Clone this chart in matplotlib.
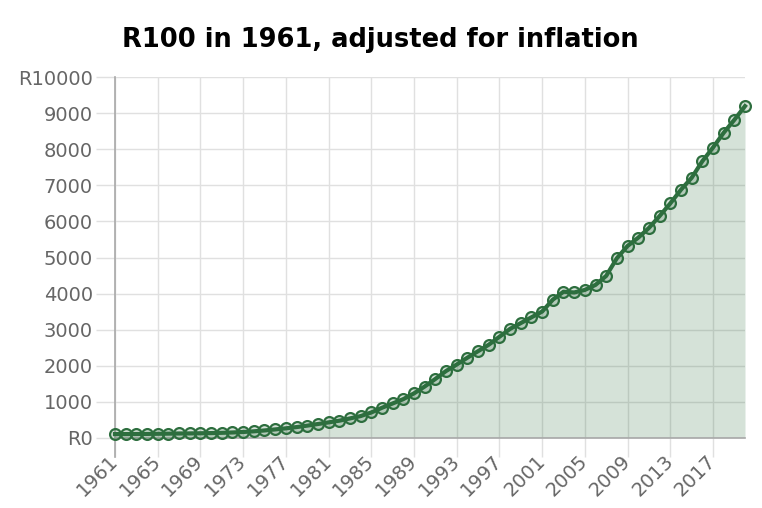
import matplotlib
matplotlib.use("Agg")
import matplotlib.pyplot as plt
from matplotlib.ticker import FuncFormatter, MultipleLocator

years = list(range(1961, 2021))
values = [100, 101, 103, 105, 109, 113, 117, 119, 123, 128,
          136, 145, 159, 177, 201, 230, 260, 295, 335, 380,
          425, 472, 535, 600, 700, 830, 950, 1070, 1230, 1420,
          1630, 1850, 2030, 2220, 2400, 2580, 2800, 3020, 3180, 3340,
          3500, 3830, 4050, 4030, 4100, 4240, 4490, 4980, 5320, 5550,
          5820, 6150, 6500, 6880, 7210, 7670, 8050, 8460, 8820, 9200]
title = "R100 in 1961, adjusted for inflation"
xtick_years = list(range(1961, 2021, 4))

line_col = "#2d6e3e"
fill_rgba = (45/255, 110/255, 62/255, 0.2)
grid_col = "#e0e0e0"
text_col = "#666666"

plt.rcParams['font.family'] = ['DejaVu Sans']

fig = plt.figure(figsize=(7.62, 5.08), dpi=100)
ax = fig.add_axes([115/762, 1 - 437.7/508, (745 - 115)/762, (437.7 - 77.3)/508])

ax.fill_between(years, values, 0, color=fill_rgba, linewidth=0, zorder=2)
ax.plot(years, values, color=line_col, linewidth=3.0, zorder=3, clip_on=False)
ax.plot(years, values, linestyle="none", marker="o", markersize=7.8,
        markerfacecolor=fill_rgba, markeredgecolor=line_col,
        markeredgewidth=1.6, zorder=4, clip_on=False)

ax.set_xlim(1961, 2020)
ax.set_ylim(0, 10000)
ax.yaxis.set_major_locator(MultipleLocator(1000))
ax.set_xticks(xtick_years)
ax.set_xticklabels([str(y) for y in xtick_years])

def yfmt(v, pos):
    v = int(round(v))
    if v == 0 or v == 10000:
        return "R%d" % v
    return "%d" % v
ax.yaxis.set_major_formatter(FuncFormatter(yfmt))

ax.grid(True, color=grid_col, linewidth=1, zorder=1)
ax.set_axisbelow(True)

for s in ["top", "right"]:
    ax.spines[s].set_visible(False)
ax.spines["left"].set_color("#a8a8a8")
ax.spines["bottom"].set_color("#a8a8a8")
ax.spines["left"].set_linewidth(1.2)
ax.spines["bottom"].set_linewidth(1.2)
ax.spines["left"].set_bounds(-530, 10000)

ax.tick_params(axis="y", length=14, width=1, color=grid_col, pad=2,
               labelsize=14, labelcolor=text_col)
ax.tick_params(axis="x", length=13.5, width=1, color=grid_col, pad=1,
               labelsize=14, labelcolor=text_col)
for lbl in ax.get_xticklabels():
    lbl.set_rotation(45)
    lbl.set_ha("right")
    lbl.set_va("center")
    lbl.set_rotation_mode("anchor")

fig.text(380 / 762, 1 - 40 / 508, title, ha="center", va="center",
         fontsize=18.5, fontweight="bold", color="#000000")

fig.savefig("out.png", dpi=100)
